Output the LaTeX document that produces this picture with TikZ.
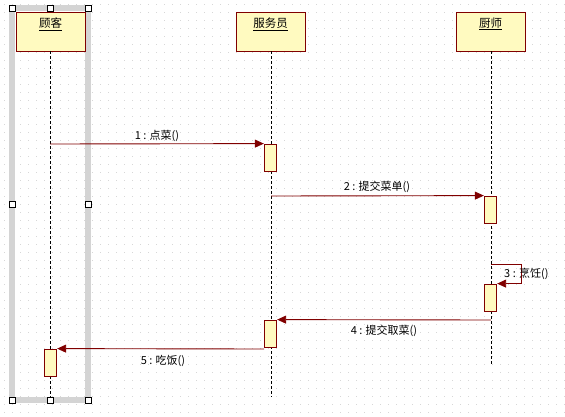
\documentclass[tikz,border=0pt]{standalone}
\usepackage{fontspec}
\setmainfont{Noto Sans CJK SC}
\usetikzlibrary{arrows.meta}

\definecolor{umlfill}{RGB}{255,250,192}
\definecolor{umlline}{RGB}{128,0,0}
\definecolor{griddot}{RGB}{215,215,215}
\definecolor{selband}{RGB}{212,212,212}

\begin{document}
\begin{tikzpicture}[x=1pt,y=-1pt,
    actorbox/.style={draw=umlline,fill=umlfill,line width=0.9pt,minimum width=69pt,minimum height=39pt,inner sep=0pt},
    actorname/.style={font=\fontsize{11.5}{13}\selectfont,inner sep=1pt},
    actbox/.style={draw=umlline,fill=umlfill,line width=0.8pt,minimum width=12.5pt,minimum height=27pt,inner sep=0pt},
    lifeline/.style={dash pattern=on 3pt off 2pt,line width=0.7pt},
    msg/.style={draw=umlline,line width=0.9pt,-{Triangle[length=9pt,width=8pt]}},
    msglabel/.style={font=\fontsize{11}{13}\selectfont,inner sep=0pt},
    handle/.style={draw=black,fill=white,line width=0.8pt,minimum size=6pt,inner sep=0pt}]

    \useasboundingbox (0,0) rectangle (565,416);

    % dotted grid
    \foreach \gx in {4,12,...,564}
        \foreach \gy in {4,12,...,412}
            \fill [griddot] (\gx-0.5,\gy-0.5) rectangle (\gx+0.5,\gy+0.5);

    % selection band round the customer
    \draw [selband,line width=6.5pt] (12,8) rectangle (88,400);

    % actors
    \node [actorbox] (cust) at (50.5,31.5) {};
    \node [actorbox] (waiter) at (270.5,31.5) {};
    \node [actorbox] (chef) at (490.5,31.5) {};
    \node [actorname] (custname) at (50.5,24) {\underline{顾客}};
    \node [actorname] (waitername) at (270.5,24) {\underline{服务员}};
    \node [actorname] (chefname) at (490.5,24) {\underline{厨师}};

    % lifelines
    \coordinate (custend) at (50,397);
    \coordinate (waiterend) at (271,397);
    \coordinate (chefend) at (491,365);
    \draw [lifeline] (cust.south -| custend) -- (custend);
    \draw [lifeline] (waiter.south -| waiterend) -- (waiterend);
    \draw [lifeline] (chef.south -| chefend) -- (chefend);

    % activations
    \node [actbox] (act1) at (270.5,157.5) {};
    \node [actbox] (act2) at (490.5,209.5) {};
    \node [actbox] (act3) at (490.5,297.5) {};
    \node [actbox] (act4) at (270.5,333.5) {};
    \node [actbox] (act5) at (50.5,362.5) {};

    % messages
    \coordinate (m1) at (50,144);
    \coordinate (m2) at (271,196);
    \coordinate (m3) at (491,264);
    \coordinate (m3b) at (521,264);
    \coordinate (m4) at (491,320);
    \coordinate (m5) at (264,349);
    \draw [msg] (m1) -- (act1.north west);
    \draw [msg] (m2) -- (act2.north west);
    \draw [msg] (m3) -- (m3b) |- (act3.north east);
    \draw [msg] (m4) -- (act4.north east);
    \draw [msg] (m5) -- (act5.north east);

    \node [msglabel] (l1) at (157,136) {1 : 点菜()};
    \node [msglabel] (l2) at (377,187) {2 : 提交菜单()};
    \node [msglabel,anchor=west] (l3) at (504,274) {3 : 烹饪()};
    \node [msglabel] (l4) at (384,331) {4 : 提交取菜()};
    \node [msglabel] (l5) at (163,361) {5 : 吃饭()};

    % selection handles
    \foreach \hx/\hy [count=\hi] in {12/8,50/8,88/8,12/204,88/204,12/400,50/400,88/400}
        \node [handle] (h\hi) at (\hx,\hy) {};
\end{tikzpicture}
\end{document}
